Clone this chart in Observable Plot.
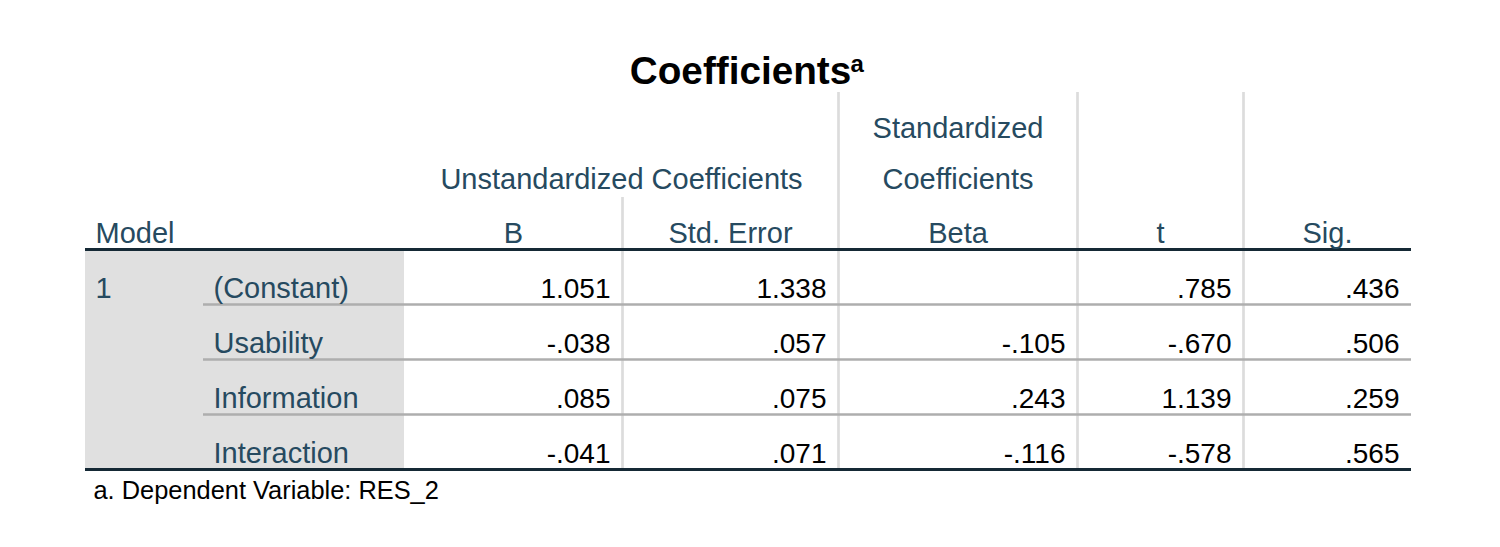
<!DOCTYPE html>
<html>
<head>
<meta charset="utf-8">
<script src="https://cdn.jsdelivr.net/npm/d3@7"></script>
<script src="https://cdn.jsdelivr.net/npm/@observablehq/plot@0.6"></script>
<style>
  html, body { margin: 0; padding: 0; background: #fff; }
  #chart svg { display: block; }
</style>
</head>
<body>
<div id="chart"></div>
<script>
// ---- data ----
const titleText = "Coefficients";
const titleNote = "a";
const footnote = "a. Dependent Variable: RES_2";
const groupHeaders = ["Unstandardized Coefficients", "Standardized\nCoefficients"];
const columnHeaders = ["Model", "", "B", "Std. Error", "Beta", "t", "Sig."];
const modelLabel = "1";
const predictors = ["(Constant)", "Usability", "Information", "Interaction"];
const B = [1.051, -0.038, 0.085, -0.041];
const stdError = [1.338, 0.057, 0.075, 0.071];
const beta = [null, -0.105, 0.243, -0.116];
const tValues = [0.785, -0.670, 1.139, -0.578];
const sig = [0.436, 0.506, 0.259, 0.565];

// ---- layout ----
const W = 1500, H = 547;
const edges = [85, 200, 404, 622, 838, 1077, 1243, 1411];
const headTop = 92, groupTop = 197;
const headLineY = 249;
const rowH = 55;
const firstRowBase = 297;
const bottomY = headLineY + rowH * predictors.length;
const hdrColor = "#264a60";
const font = "'Liberation Sans', Arial, Helvetica, sans-serif";
const fsHdr = 29;
const fsNum = 28;

// SPSS style: no leading zero, ASCII hyphen minus
const fmt = v => v == null ? "" : v.toFixed(3).replace(/^(-?)0\./, "$1.");

// cells
const numCols = [B, stdError, beta, tValues, sig];
const cells = [];
numCols.forEach((col, c) => {
  col.forEach((v, r) => {
    cells.push({x: edges[c + 3] - 12, y: firstRowBase + r * rowH, text: fmt(v)});
  });
});

const rowLabels = predictors.map((p, r) => ({x: edges[1] + 13, y: firstRowBase + r * rowH, text: p}));
const headerCells = columnHeaders.map((h, i) => ({x: (edges[i] + edges[i + 1]) / 2, y: 242, text: h}))
  .filter((d, i) => i > 0 && d.text);
const groupCells = [
  {x: (edges[2] + edges[4]) / 2, y: 188, text: groupHeaders[0]},
  {x: (edges[4] + edges[5]) / 2, y: 188, text: groupHeaders[1]}
];

const rowLines = d3.range(predictors.length - 1).map(r => ({y: headLineY + (r + 1) * rowH, x1: 203, x2: edges[7]}));
const vLines = [
  {x: edges[3], y1: groupTop, y2: bottomY},
  {x: edges[4], y1: headTop, y2: bottomY},
  {x: edges[5], y1: headTop, y2: bottomY},
  {x: edges[6], y1: headTop, y2: bottomY}
];

const chart = Plot.plot({
  width: W,
  height: H,
  margin: 0,
  x: {domain: [0, W], range: [0, W], axis: null},
  y: {domain: [0, H], range: [0, H], axis: null},
  style: {fontFamily: font, background: "#fff"},
  marks: [
    Plot.rect([{x1: edges[0], x2: edges[2], y1: headLineY, y2: bottomY}], {x1: "x1", x2: "x2", y1: "y1", y2: "y2", fill: "#e0e0e0"}),
    Plot.ruleX(vLines, {x: "x", y1: "y1", y2: "y2", stroke: "#dcdcdc", strokeWidth: 2.7}),
    Plot.ruleY(rowLines, {y: "y", x1: "x1", x2: "x2", stroke: "#aeaeae", strokeWidth: 2.5}),
    Plot.ruleY([headLineY, bottomY], {y: d => d, x1: edges[0], x2: edges[7], stroke: "#152935", strokeWidth: 3}),
    // title
    Plot.text([titleText], {x: () => 740, y: () => 83, text: d => d, fontSize: 38.7, fontWeight: "bold", fill: "#000", lineAnchor: "bottom"}),
    Plot.text([titleNote], {x: () => 850, y: () => 71, text: d => d, fontSize: 24, fontWeight: "bold", fill: "#000", textAnchor: "start", lineAnchor: "bottom"}),
    // headers
    Plot.text(groupCells, {x: "x", y: "y", text: "text", fontSize: fsHdr, fill: hdrColor, lineAnchor: "bottom", lineHeight: 51 / fsHdr}),
    Plot.text([columnHeaders[0]], {x: () => edges[0] + 10, y: () => 242, text: d => d, textAnchor: "start", fontSize: fsHdr, fill: hdrColor, lineAnchor: "bottom"}),
    Plot.text(headerCells, {x: "x", y: "y", text: "text", fontSize: fsHdr, fill: hdrColor, lineAnchor: "bottom"}),
    // row labels
    Plot.text([modelLabel], {x: () => edges[0] + 10, y: () => firstRowBase, text: d => d, textAnchor: "start", fontSize: fsHdr, fill: hdrColor, lineAnchor: "bottom"}),
    Plot.text(rowLabels, {x: "x", y: "y", text: "text", textAnchor: "start", fontSize: fsHdr, fill: hdrColor, lineAnchor: "bottom"}),
    // values
    Plot.text(cells, {x: "x", y: "y", text: "text", textAnchor: "end", fontSize: fsNum, fill: "#000", lineAnchor: "bottom"}),
    // footnote
    Plot.text([footnote], {x: () => edges[0] + 8, y: () => 498, text: d => d, textAnchor: "start", fontSize: 25.4, fill: "#000", lineAnchor: "bottom"})
  ]
});
document.getElementById("chart").appendChild(chart);
</script>
</body>
</html>
